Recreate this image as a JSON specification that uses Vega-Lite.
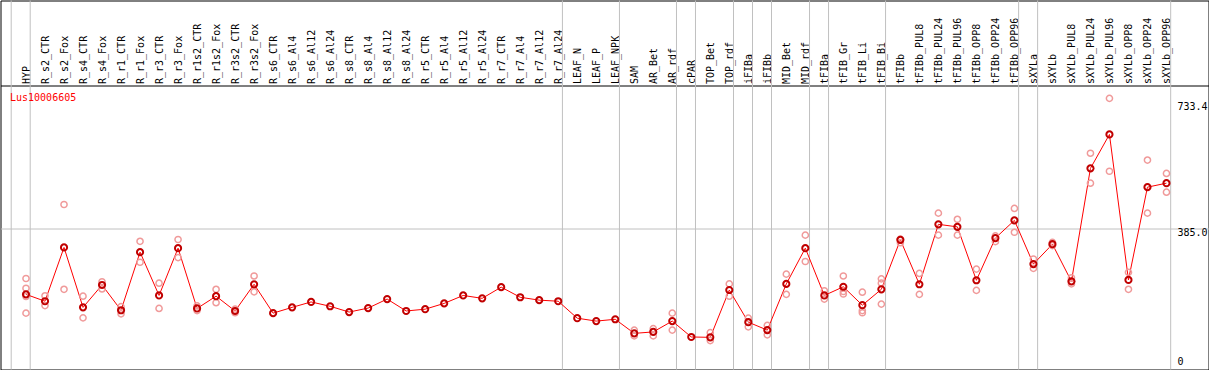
{
  "$schema": "https://vega.github.io/schema/vega-lite/v6.json",
  "width": 1208,
  "height": 369,
  "autosize": {"type": "none"},
  "padding": {"left": 0.5, "top": 0.5, "right": 0.5, "bottom": 0.5},
  "background": "white",
  "config": {
    "view": {"stroke": "black", "strokeWidth": 1},
    "axis": {"labelFont": "DejaVu Sans Mono", "labelFontSize": 10, "labelColor": "black"}
  },
  "title": {
    "text": "Lus10006605",
    "color": "red",
    "font": "DejaVu Sans Mono",
    "fontSize": 10,
    "fontWeight": "normal",
    "anchor": "start",
    "frame": "group",
    "orient": "top",
    "offset": 0,
    "dx": 9.5,
    "dy": 111,
    "baseline": "alphabetic"
  },
  "datasets": {
    "means": [
      {"i": 0, "name": "HYP", "value": 202},
      {"i": 1, "name": "R_s2_CTR", "value": 183},
      {"i": 2, "name": "R_s2_Fox", "value": 332},
      {"i": 3, "name": "R_s4_CTR", "value": 166},
      {"i": 4, "name": "R_s4_Fox", "value": 228},
      {"i": 5, "name": "R_r1_CTR", "value": 158},
      {"i": 6, "name": "R_r1_Fox", "value": 319},
      {"i": 7, "name": "R_r3_CTR", "value": 199},
      {"i": 8, "name": "R_r3_Fox", "value": 330},
      {"i": 9, "name": "R_r1s2_CTR", "value": 163},
      {"i": 10, "name": "R_r1s2_Fox", "value": 197},
      {"i": 11, "name": "R_r3s2_CTR", "value": 156},
      {"i": 12, "name": "R_r3s2_Fox", "value": 230},
      {"i": 13, "name": "R_s6_CTR", "value": 150},
      {"i": 14, "name": "R_s6_Al4", "value": 166},
      {"i": 15, "name": "R_s6_Al12", "value": 181},
      {"i": 16, "name": "R_s6_Al24", "value": 169},
      {"i": 17, "name": "R_s8_CTR", "value": 153},
      {"i": 18, "name": "R_s8_Al4", "value": 164},
      {"i": 19, "name": "R_s8_Al12", "value": 189},
      {"i": 20, "name": "R_s8_Al24", "value": 156},
      {"i": 21, "name": "R_r5_CTR", "value": 161},
      {"i": 22, "name": "R_r5_Al4", "value": 177},
      {"i": 23, "name": "R_r5_Al12", "value": 199},
      {"i": 24, "name": "R_r5_Al24", "value": 191},
      {"i": 25, "name": "R_r7_CTR", "value": 222},
      {"i": 26, "name": "R_r7_Al4", "value": 194},
      {"i": 27, "name": "R_r7_Al12", "value": 186},
      {"i": 28, "name": "R_r7_Al24", "value": 183},
      {"i": 29, "name": "LEAF_N", "value": 136},
      {"i": 30, "name": "LEAF_P", "value": 128},
      {"i": 31, "name": "LEAF_NPK", "value": 133},
      {"i": 32, "name": "SAM", "value": 94},
      {"i": 33, "name": "AR_Bet", "value": 98},
      {"i": 34, "name": "AR_rdf", "value": 128},
      {"i": 35, "name": "cPAR", "value": 84},
      {"i": 36, "name": "TOP_Bet", "value": 83},
      {"i": 37, "name": "TOP_rdf", "value": 214},
      {"i": 38, "name": "iFIBa", "value": 125},
      {"i": 39, "name": "iFIBb", "value": 103},
      {"i": 40, "name": "MID_Bet", "value": 231},
      {"i": 41, "name": "MID_rdf", "value": 330},
      {"i": 42, "name": "tFIBa", "value": 199},
      {"i": 43, "name": "tFIB_Gr", "value": 223},
      {"i": 44, "name": "tFIB_Li", "value": 172},
      {"i": 45, "name": "tFIB_Bi", "value": 216},
      {"i": 46, "name": "tFIBb", "value": 353},
      {"i": 47, "name": "tFIBb_PUL8", "value": 230},
      {"i": 48, "name": "tFIBb_PUL24", "value": 396},
      {"i": 49, "name": "tFIBb_PUL96", "value": 389},
      {"i": 50, "name": "tFIBb_OPP8", "value": 241},
      {"i": 51, "name": "tFIBb_OPP24", "value": 358},
      {"i": 52, "name": "tFIBb_OPP96", "value": 407},
      {"i": 53, "name": "sXYLa", "value": 286},
      {"i": 54, "name": "sXYLb", "value": 341},
      {"i": 55, "name": "sXYLb_PUL8", "value": 238},
      {"i": 56, "name": "sXYLb_PUL24", "value": 551},
      {"i": 57, "name": "sXYLb_PUL96", "value": 645},
      {"i": 58, "name": "sXYLb_OPP8", "value": 242},
      {"i": 59, "name": "sXYLb_OPP24", "value": 499},
      {"i": 60, "name": "sXYLb_OPP96", "value": 510}
    ],
    "reps": [
      {"i": 0, "name": "HYP", "value": 246}, {"i": 0, "name": "HYP", "value": 219}, {"i": 0, "name": "HYP", "value": 196}, {"i": 0, "name": "HYP", "value": 150},
      {"i": 1, "name": "R_s2_CTR", "value": 198}, {"i": 1, "name": "R_s2_CTR", "value": 171},
      {"i": 2, "name": "R_s2_Fox", "value": 451}, {"i": 2, "name": "R_s2_Fox", "value": 216},
      {"i": 3, "name": "R_s4_CTR", "value": 197}, {"i": 3, "name": "R_s4_CTR", "value": 137},
      {"i": 4, "name": "R_s4_Fox", "value": 237}, {"i": 4, "name": "R_s4_Fox", "value": 217},
      {"i": 5, "name": "R_r1_CTR", "value": 168}, {"i": 5, "name": "R_r1_CTR", "value": 148},
      {"i": 6, "name": "R_r1_Fox", "value": 349}, {"i": 6, "name": "R_r1_Fox", "value": 291},
      {"i": 7, "name": "R_r3_CTR", "value": 233}, {"i": 7, "name": "R_r3_CTR", "value": 163},
      {"i": 8, "name": "R_r3_Fox", "value": 354}, {"i": 8, "name": "R_r3_Fox", "value": 304},
      {"i": 9, "name": "R_r1s2_CTR", "value": 170}, {"i": 9, "name": "R_r1s2_CTR", "value": 157},
      {"i": 10, "name": "R_r1s2_Fox", "value": 216}, {"i": 10, "name": "R_r1s2_Fox", "value": 179},
      {"i": 11, "name": "R_r3s2_CTR", "value": 161}, {"i": 11, "name": "R_r3s2_CTR", "value": 151},
      {"i": 12, "name": "R_r3s2_Fox", "value": 253}, {"i": 12, "name": "R_r3s2_Fox", "value": 209},
      {"i": 32, "name": "SAM", "value": 103}, {"i": 32, "name": "SAM", "value": 87},
      {"i": 33, "name": "AR_Bet", "value": 107}, {"i": 33, "name": "AR_Bet", "value": 87},
      {"i": 34, "name": "AR_rdf", "value": 150}, {"i": 34, "name": "AR_rdf", "value": 103},
      {"i": 36, "name": "TOP_Bet", "value": 96}, {"i": 36, "name": "TOP_Bet", "value": 74},
      {"i": 37, "name": "TOP_rdf", "value": 231}, {"i": 37, "name": "TOP_rdf", "value": 197},
      {"i": 38, "name": "iFIBa", "value": 136}, {"i": 38, "name": "iFIBa", "value": 112},
      {"i": 39, "name": "iFIBb", "value": 116}, {"i": 39, "name": "iFIBb", "value": 90},
      {"i": 40, "name": "MID_Bet", "value": 258}, {"i": 40, "name": "MID_Bet", "value": 202},
      {"i": 41, "name": "MID_rdf", "value": 366}, {"i": 41, "name": "MID_rdf", "value": 293},
      {"i": 42, "name": "tFIBa", "value": 212}, {"i": 42, "name": "tFIBa", "value": 189},
      {"i": 43, "name": "tFIB_Gr", "value": 253}, {"i": 43, "name": "tFIB_Gr", "value": 210}, {"i": 43, "name": "tFIB_Gr", "value": 203},
      {"i": 44, "name": "tFIB_Li", "value": 208}, {"i": 44, "name": "tFIB_Li", "value": 157}, {"i": 44, "name": "tFIB_Li", "value": 151},
      {"i": 45, "name": "tFIB_Bi", "value": 245}, {"i": 45, "name": "tFIB_Bi", "value": 233}, {"i": 45, "name": "tFIB_Bi", "value": 175},
      {"i": 46, "name": "tFIBb", "value": 355}, {"i": 46, "name": "tFIBb", "value": 345},
      {"i": 47, "name": "tFIBb_PUL8", "value": 260}, {"i": 47, "name": "tFIBb_PUL8", "value": 202},
      {"i": 48, "name": "tFIBb_PUL24", "value": 427}, {"i": 48, "name": "tFIBb_PUL24", "value": 366},
      {"i": 49, "name": "tFIBb_PUL96", "value": 410}, {"i": 49, "name": "tFIBb_PUL96", "value": 366},
      {"i": 50, "name": "tFIBb_OPP8", "value": 272}, {"i": 50, "name": "tFIBb_OPP8", "value": 213},
      {"i": 51, "name": "tFIBb_OPP24", "value": 364}, {"i": 51, "name": "tFIBb_OPP24", "value": 348},
      {"i": 52, "name": "tFIBb_OPP96", "value": 440}, {"i": 52, "name": "tFIBb_OPP96", "value": 374},
      {"i": 53, "name": "sXYLa", "value": 300}, {"i": 53, "name": "sXYLa", "value": 274},
      {"i": 54, "name": "sXYLb", "value": 346}, {"i": 54, "name": "sXYLb", "value": 337},
      {"i": 55, "name": "sXYLb_PUL8", "value": 248}, {"i": 55, "name": "sXYLb_PUL8", "value": 231},
      {"i": 56, "name": "sXYLb_PUL24", "value": 593}, {"i": 56, "name": "sXYLb_PUL24", "value": 510},
      {"i": 57, "name": "sXYLb_PUL96", "value": 745}, {"i": 57, "name": "sXYLb_PUL96", "value": 543},
      {"i": 58, "name": "sXYLb_OPP8", "value": 263}, {"i": 58, "name": "sXYLb_OPP8", "value": 216},
      {"i": 59, "name": "sXYLb_OPP24", "value": 574}, {"i": 59, "name": "sXYLb_OPP24", "value": 427},
      {"i": 60, "name": "sXYLb_OPP96", "value": 537}, {"i": 60, "name": "sXYLb_OPP96", "value": 485}
    ],
    "groupEnds": [
      {"i": -1}, {"i": 0}, {"i": 28}, {"i": 31}, {"i": 34},
      {"i": 35}, {"i": 37}, {"i": 38}, {"i": 39},
      {"i": 41}, {"i": 42}, {"i": 45}, {"i": 52},
      {"i": 53}, {"i": 60}
    ]
  },
  "encoding": {
    "x": {
      "field": "i",
      "type": "quantitative",
      "scale": {"domain": [-1.3416, 62.211], "nice": false, "zero": false},
      "axis": {
        "orient": "top",
        "title": null,
        "values": [0,1,2,3,4,5,6,7,8,9,10,11,12,13,14,15,16,17,18,19,20,21,22,23,24,25,26,27,28,29,30,31,32,33,34,35,36,37,38,39,40,41,42,43,44,45,46,47,48,49,50,51,52,53,54,55,56,57,58,59,60],
        "labelExpr": "['HYP','R_s2_CTR','R_s2_Fox','R_s4_CTR','R_s4_Fox','R_r1_CTR','R_r1_Fox','R_r3_CTR','R_r3_Fox','R_r1s2_CTR','R_r1s2_Fox','R_r3s2_CTR','R_r3s2_Fox','R_s6_CTR','R_s6_Al4','R_s6_Al12','R_s6_Al24','R_s8_CTR','R_s8_Al4','R_s8_Al12','R_s8_Al24','R_r5_CTR','R_r5_Al4','R_r5_Al12','R_r5_Al24','R_r7_CTR','R_r7_Al4','R_r7_Al12','R_r7_Al24','LEAF_N','LEAF_P','LEAF_NPK','SAM','AR_Bet','AR_rdf','cPAR','TOP_Bet','TOP_rdf','iFIBa','iFIBb','MID_Bet','MID_rdf','tFIBa','tFIB_Gr','tFIB_Li','tFIB_Bi','tFIBb','tFIBb_PUL8','tFIBb_PUL24','tFIBb_PUL96','tFIBb_OPP8','tFIBb_OPP24','tFIBb_OPP96','sXYLa','sXYLb','sXYLb_PUL8','sXYLb_PUL24','sXYLb_PUL96','sXYLb_OPP8','sXYLb_OPP24','sXYLb_OPP96'][datum.value]",
        "ticks": false,
        "domain": false,
        "grid": false,
        "labelAngle": -90,
        "labelAlign": "left",
        "labelBaseline": "middle",
        "labelPadding": -83,
        "labelOverlap": false,
        "labelBound": false,
        "labelFlush": false,
        "labelLimit": 200
      }
    }
  },
  "layer": [
    {
      "data": {"name": "groupEnds"},
      "mark": {"type": "rule", "color": "#c0c0c0", "strokeWidth": 1, "xOffset": 4.2},
      "encoding": {}
    },
    {
      "data": {"name": "means"},
      "mark": {"type": "line", "color": "#ff0000", "strokeWidth": 1},
      "encoding": {
        "y": {
          "field": "value",
          "type": "quantitative",
          "scale": {"domain": [-6.1, 1016], "nice": false, "zero": false},
          "axis": {
            "orient": "right",
            "title": null,
            "values": [0, 385, 733.4, 781.9],
            "domain": false,
            "ticks": false,
            "grid": true,
            "gridColor": {"condition": {"test": "datum.value > 780", "value": "black"}, "value": "#c0c0c0"},
            "gridOpacity": {"condition": {"test": "datum.value == 385 || datum.value > 780", "value": 1}, "value": 0},
            "labelExpr": "datum.value > 780 ? '' : datum.value == 0 ? '0' : format(datum.value, '.1f')",
            "labelAlign": "left",
            "labelBaseline": "middle",
            "labelPadding": -31.5,
            "labelOffset": {"condition": {"test": "datum.value == 0", "value": -6}, "value": 4},
            "labelFlush": false,
            "labelOverlap": false,
            "labelBound": false
          }
        }
      }
    },
    {
      "data": {"name": "reps"},
      "mark": {"type": "point", "shape": "circle", "filled": false, "color": "#f09a9a", "strokeWidth": 1.5, "size": 38, "opacity": 1},
      "encoding": {"y": {"field": "value", "type": "quantitative"}}
    },
    {
      "data": {"name": "means"},
      "mark": {"type": "point", "shape": "circle", "filled": false, "color": "#c00000", "strokeWidth": 2, "size": 38, "opacity": 1},
      "encoding": {"y": {"field": "value", "type": "quantitative"}}
    }
  ]
}
